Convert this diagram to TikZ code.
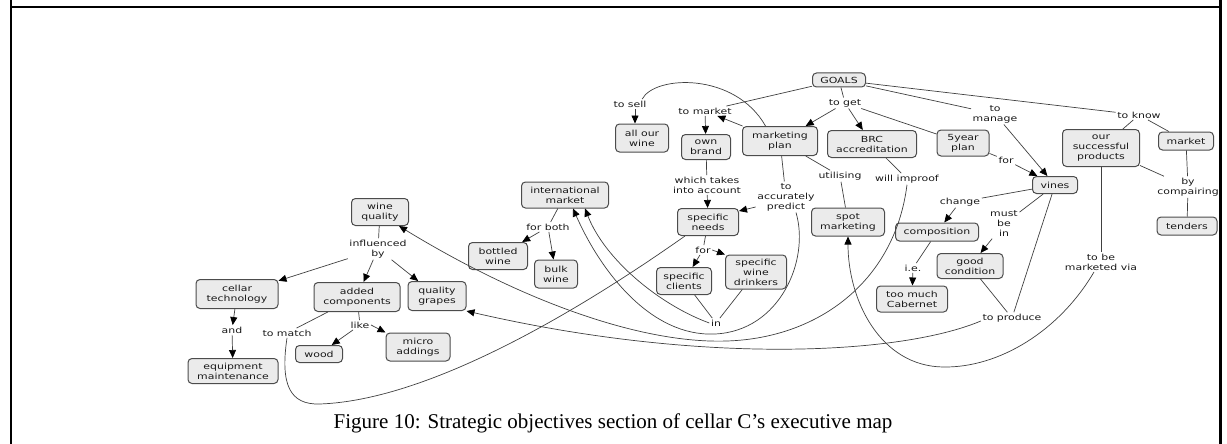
\documentclass[tikz,border=0pt]{standalone}
\usepackage{fontspec}
\setmainfont{Liberation Serif}
\newfontfamily\mapfont[FakeStretch=1.3]{DejaVu Sans}
\usetikzlibrary{arrows.meta}
\begin{document}
\begin{tikzpicture}[x=1pt,y=-1pt,
 box/.style={draw=black!70, fill=black!8, rounded corners=4pt, line width=1pt, align=center, font=\mapfont\fontsize{8.4}{10}\selectfont, text=black!90, inner sep=0pt},
 bx/.style 2 args={box, minimum width=#1, minimum height=#2},
 lab/.style={align=center, font=\mapfont\fontsize{8.4}{10}\selectfont, text=black!90, inner sep=1.5pt},
 conn/.style={draw=black!75, line width=0.7pt},
 arr/.style={conn, -{Triangle[length=8pt,width=7pt,color=black]}},
 frame/.style={draw=black, line width=2.3pt}
]
\useasboundingbox (0,0) rectangle (1227,444);
% frame
\coordinate (fl0) at (11,0); \coordinate (fl1) at (11,444);
\coordinate (fr0) at (1220.5,0); \coordinate (fr1) at (1220.5,444);
\coordinate (ft0) at (11,7); \coordinate (ft1) at (1220.5,7);
\draw[frame] (fl0) -- (fl1);
\draw[frame] (fr0) -- (fr1);
\draw[frame] (ft0) -- (ft1);

% concepts
\node[bx={53}{14}] (goals) at (839,80) {GOALS};
\node[bx={53}{28}] (allwine) at (642,138) {all our\\wine};
\node[bx={49}{25}] (ownbrand) at (706,147) {own\\brand};
\node[bx={75}{29}] (mplan) at (780,141) {marketing\\plan};
\node[bx={89}{27}] (brc) at (872,144) {BRC\\accreditation};
\node[bx={52}{26}] (fiveyear) at (963,143) {5year\\plan};
\node[bx={77}{37}] (products) at (1101,148) {our\\successful\\products};
\node[bx={55}{18}] (market) at (1186,141) {market};
\node[bx={45}{17}] (vines) at (1055,185) {vines};
\node[bx={60}{18}] (tenders) at (1187,226) {tenders};
\node[bx={87}{26}] (intl) at (565,195) {international\\market};
\node[bx={61}{27}] (needs) at (708,222) {specific\\needs};
\node[bx={73}{28}] (spot) at (848,222) {spot\\marketing};
\node[bx={83}{18}] (composition) at (937,232) {composition};
\node[bx={57}{27}] (wq) at (380,212) {wine\\quality};
\node[bx={59}{27}] (bottled) at (498,256) {bottled\\wine};
\node[bx={43}{28}] (bulk) at (556,274) {bulk\\wine};
\node[bx={55}{27}] (clients) at (684,281) {specific\\clients};
\node[bx={61}{34}] (drinkers) at (756,272) {specific\\wine\\drinkers};
\node[bx={66}{25}] (good) at (970,266) {good\\condition};
\node[bx={71}{26}] (cabernet) at (912,299) {too much\\Cabernet};
\node[bx={82}{29}] (cellar) at (237,294) {cellar\\technology};
\node[bx={86}{29}] (added) at (357,297) {added\\components};
\node[bx={58}{29}] (grapes) at (437,296) {quality\\grapes};
\node[bx={47}{17}] (wood) at (319,354) {wood};
\node[bx={64}{28}] (micro) at (418,347) {micro\\addings};
\node[bx={90}{25}] (equip) at (233,371) {equipment\\maintenance};

% linking phrases
\node[lab] (tosell) at (630,104) {to sell};
\node[lab] (tomarket) at (705,111) {to market};
\node[lab] (toget) at (845,103) {to get};
\node[lab] (tomanage) at (995,114) {to\\manage};
\node[lab] (toknow) at (1139,115) {to know};
\node[lab] (for1) at (1006,160) {for};
\node[lab] (utilising) at (840,176) {utilising};
\node[lab] (improof) at (907,179) {will improof};
\node[lab] (account) at (707,185) {which takes\\into account};
\node[lab] (predict) at (786,197) {to\\accurately\\predict};
\node[lab] (change) at (960,202) {change};
\node[lab] (mustbe) at (1004,224) {must\\be\\in};
\node[lab] (compairing) at (1188,187) {by\\compairing};
\node[lab] (forboth) at (548,227) {for both};
\node[lab] (for2) at (703,250) {for};
\node[lab] (in) at (716,323) {in};
\node[lab] (ie) at (913,268) {i.e.};
\node[lab] (produce) at (1012,318) {to produce};
\node[lab] (marketed) at (1101,262) {to be\\marketed via};
\node[lab] (influenced) at (378,249) {influenced\\by};
\node[lab] (and) at (232,330) {and};
\node[lab] (tomatch) at (287,333) {to match};
\node[lab] (like) at (360,325) {like};

% connectors
\draw[conn] (goals) -- (tomarket);
\draw[arr] (tomarket) -- (ownbrand);
\draw[arr] (mplan) -- (tomarket);
\draw[conn] (goals) -- (toget);
\draw[arr] (toget) -- (mplan);
\draw[arr] (toget) -- (brc);
\draw[conn] (toget) -- (fiveyear);
\draw[conn] (mplan.134) .. controls (735,72) and (655,75) .. ([xshift=-6pt]tosell.north east);
\draw[arr] ([xshift=5pt]tosell.south) -- ([xshift=5pt]tosell.south |- allwine.north);
\draw[conn] (goals) -- (tomanage);
\draw[arr] (tomanage) -- (vines);
\draw[conn] (goals) -- (toknow);
\draw[conn] (toknow) -- (products);
\draw[conn] (toknow) -- (market);
\draw[conn] (fiveyear) -- (for1);
\draw[arr] (for1) -- (vines);
\draw[conn] (mplan) -- (utilising);
\draw[conn] (utilising) -- (spot);
\draw[conn] (mplan) -- (predict);
\draw[arr] ([yshift=-10pt]predict.west) -- ([yshift=-3pt]needs.north east);
\draw[arr] ([xshift=10pt]predict.south) .. controls (810,260) and (780,331) .. (715,334) .. controls (650,337) and (600,270) .. ([xshift=8pt]intl.south);
\draw[conn] (vines) -- (change);
\draw[arr] (change) -- (composition);
\draw[conn] (vines) -- (mustbe);
\draw[arr] (mustbe) -- (good);
\draw[conn] (vines) -- (produce);
\draw[conn] (good) -- (produce);
\draw[arr] ([yshift=-3pt]produce.west) .. controls (900,355) and (700,365) .. (grapes.south east);
\draw[conn] (composition) -- (ie);
\draw[arr] (ie) -- (cabernet);
\draw[conn] (products) -- (compairing);
\draw[conn] (market) -- (compairing);
\draw[conn] (compairing) -- (tenders);
\draw[conn] (products) -- (marketed);
\draw[arr] ([xshift=-7pt]marketed.south) .. controls (1060,330) and (1000,368) .. (943,367) .. controls (880,366) and (848,300) .. (spot.south);
\draw[conn] (ownbrand) -- (account);
\draw[arr] (account) -- (needs);
\draw[conn] (needs) -- (for2);
\draw[arr] (for2) -- (clients);
\draw[arr] (for2.east) -- (drinkers.north west);
\draw[conn] (clients) -- (in);
\draw[conn] (drinkers) -- (in);
\draw[arr] (in.west) .. controls (660,305) and (605,260) .. ([xshift=20pt]intl.south);
\draw[conn] (intl) -- (forboth);
\draw[arr] (forboth) -- (bottled);
\draw[arr] (forboth) -- (bulk);
\draw[conn] (wq) -- (influenced);
\draw[arr] (influenced) -- (cellar);
\draw[arr] (influenced) -- (added);
\draw[arr] (influenced) -- (grapes);
\draw[arr] (cellar) -- (and);
\draw[arr] (and) -- (equip);
\draw[conn] (added) -- (like);
\draw[arr] (like) -- (wood);
\draw[arr] (like.east) -- (micro.north west);
\draw[conn] (added) -- (tomatch);
\draw[conn] (tomatch.south) .. controls (280,385) and (290,405) .. (320,404) .. controls (430,400) and (580,310) .. ([xshift=8pt]needs.south west);
\draw[conn] (brc) -- (improof);
\draw[arr] (improof.south) .. controls (895,280) and (820,338) .. (727,341) .. controls (640,344) and (520,300) .. ([xshift=-10pt]wq.south east);

% caption
\node[anchor=base, font=\fontsize{21}{25}\selectfont, inner sep=0pt] (caption) at (613,428) {Figure 10: Strategic objectives section of cellar C’s executive map};
\end{tikzpicture}
\end{document}
